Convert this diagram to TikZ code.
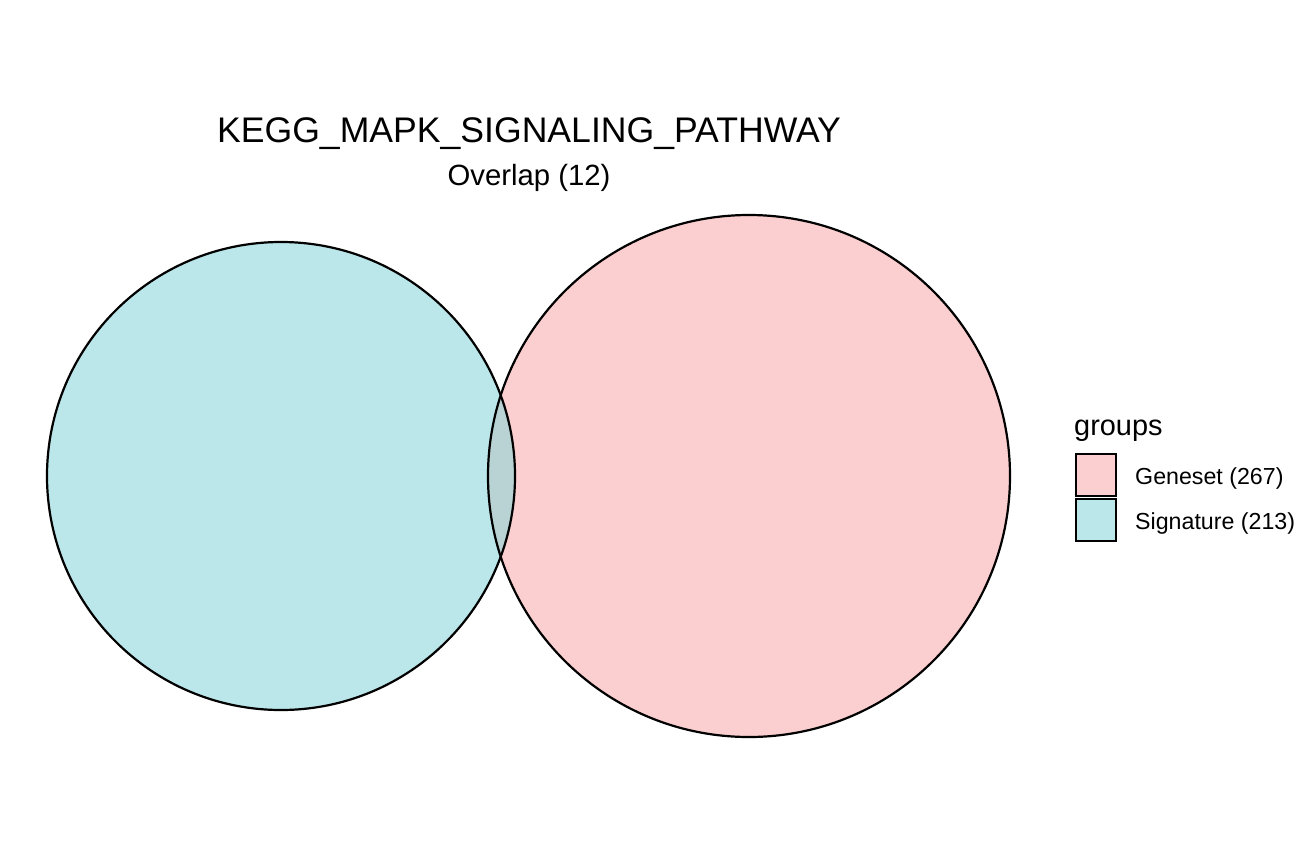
\documentclass[tikz,border=0pt]{standalone}
\usepackage{fontspec}
\setmainfont{Liberation Sans}
\definecolor{pinkfill}{HTML}{FBCFD0}
\definecolor{cyanfill}{HTML}{BBE7EA}
\definecolor{overlapfill}{HTML}{B9D3D4}
\tikzset{
  setcircle/.style={draw=black, line width=2.2pt},
  keybox/.style={draw=black, line width=2.2pt, minimum width=40pt, minimum height=42pt, inner sep=0pt},
  keylabel/.style={anchor=base west, font=\fontsize{23.2}{26}\selectfont, inner sep=0pt},
}
\begin{document}
\begin{tikzpicture}[x=1pt,y=-1pt]
\useasboundingbox (0,0) rectangle (1296,865);
% circles
\fill[pinkfill] (749,476) circle (261);
\fill[cyanfill] (281,476) circle (234);
\begin{scope}
  \clip (749,476) circle (261);
  \fill[overlapfill] (281,476) circle (234);
\end{scope}
\node[setcircle, circle, minimum size=522pt, inner sep=0pt] (geneset) at (749,476) {};
\node[setcircle, circle, minimum size=468pt, inner sep=0pt] (signature) at (281,476) {};
% title
\node[anchor=base, inner sep=0pt, font=\fontsize{35.6}{40}\selectfont] (title) at (529,142) {KEGG\_MAPK\_SIGNALING\_PATHWAY};
\node[anchor=base, inner sep=0pt, font=\fontsize{29.3}{33}\selectfont] (subtitle) at (529,185) {Overlap (12)};
% legend
\node[anchor=base west, inner sep=0pt, font=\fontsize{28.9}{33}\selectfont] (groups) at (1074,435) {groups};
\node[keybox, fill=pinkfill] (k1) at (1096,475) {};
\node[keybox, fill=cyanfill] (k2) at (1096,520) {};
\node[keylabel] (l1) at (1135,484) {Geneset (267)};
\node[keylabel] (l2) at (1135,529) {Signature (213)};
\end{tikzpicture}
\end{document}
